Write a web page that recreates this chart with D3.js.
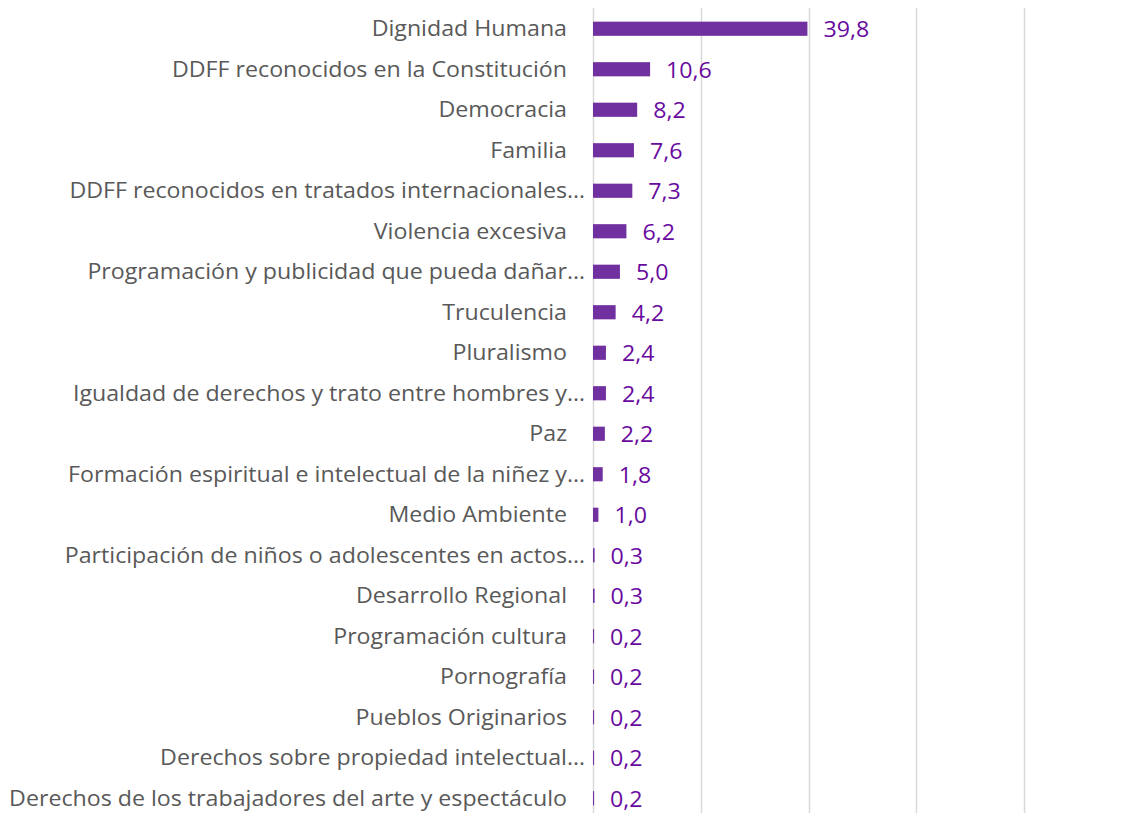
<!DOCTYPE html>
<html>
<head>
<meta charset="utf-8">
<script src="https://cdn.jsdelivr.net/npm/d3@7"></script>
<style>
  body { margin: 0; background: #fff; }
  svg { display: block; }
</style>
</head>
<body>
<svg id="chart" width="1126" height="813"></svg>
<script>
// categories, top to bottom
var categories = [
  "Dignidad Humana",
  "DDFF reconocidos en la Constitución",
  "Democracia",
  "Familia",
  "DDFF reconocidos en tratados internacionales…",
  "Violencia excesiva",
  "Programación y publicidad que pueda dañar…",
  "Truculencia",
  "Pluralismo",
  "Igualdad de derechos y trato entre hombres y…",
  "Paz",
  "Formación espiritual e intelectual de la niñez y…",
  "Medio Ambiente",
  "Participación de niños o adolescentes en actos…",
  "Desarrollo Regional",
  "Programación cultura",
  "Pornografía",
  "Pueblos Originarios",
  "Derechos sobre propiedad intelectual…",
  "Derechos de los trabajadores del arte y espectáculo"
];
var values = [39.8, 10.6, 8.2, 7.6, 7.3, 6.2, 5.0, 4.2, 2.4, 2.4, 2.2, 1.8, 1.0, 0.3, 0.3, 0.2, 0.2, 0.2, 0.2, 0.2];
var gridTicks = [0, 20, 40, 60, 80];

var svg = d3.select("#chart");
var stretch = 1.105;

var x = d3.scaleLinear().domain([0, 80]).range([593, 1024]);
var y = d3.scaleBand().domain(categories).range([8.5, 818.5]).paddingInner(0.65).paddingOuter(0.325);

// gridlines
svg.append("g")
    .selectAll("line")
    .data(gridTicks)
    .join("line")
    .attr("x1", function(d) { return Math.round(x(d)) + 0.5; })
    .attr("x2", function(d) { return Math.round(x(d)) + 0.5; })
    .attr("y1", 8)
    .attr("y2", 813)
    .style("stroke", "#d9d9d9")
    .style("stroke-width", "1.5px");

// bars
svg.append("g")
    .selectAll("rect")
    .data(values)
    .join("rect")
    .attr("x", x(0))
    .attr("y", function(d, i) { return y(categories[i]); })
    .attr("width", function(d) { return x(d) - x(0); })
    .attr("height", y.bandwidth())
    .style("fill", "#7030a0");

// value labels
svg.append("g")
    .selectAll("text")
    .data(values)
    .join("text")
    .attr("transform", function(d, i) {
      return "translate(" + (x(d) + 16) + "," + (y(categories[i]) + y.bandwidth() / 2 + 1) + ") scale(" + stretch + ",1)";
    })
    .attr("dy", "0.36em")
    .style("font-family", "'Open Sans', sans-serif")
    .style("font-size", "21px")
    .style("fill", "#680a9e")
    .text(function(d) { return d.toFixed(1).replace(".", ","); });

// category axis labels (truncated ones sit closer to the axis)
var yAxis = d3.axisLeft(y).tickSize(0).tickPadding(0);
var ga = svg.append("g")
    .attr("transform", "translate(" + x(0) + ",0)")
    .call(yAxis);
ga.select(".domain").remove();
ga.selectAll("text")
    .attr("x", 0)
    .attr("dy", "0.36em")
    .attr("transform", function(d) {
      var pad = d.slice(-1) === "…" ? 8 : 26;
      return "translate(" + (-pad) + ",0) scale(" + stretch + ",1)";
    })
    .style("font-family", "'Open Sans', sans-serif")
    .style("font-size", "21px")
    .style("fill", "#595959");
</script>
</body>
</html>
